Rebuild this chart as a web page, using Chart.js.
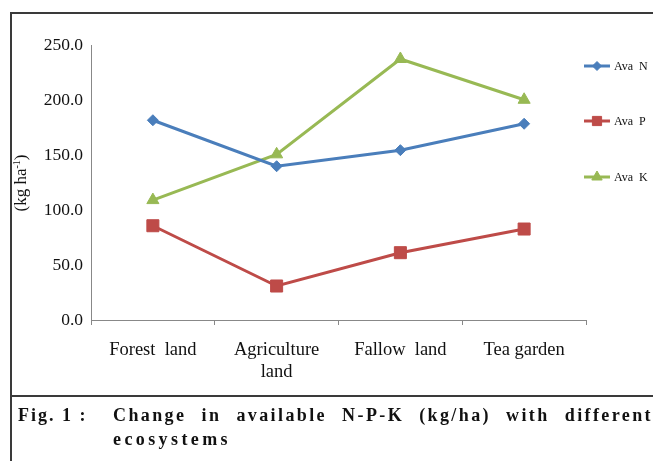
<!DOCTYPE html>
<html>
<head>
<meta charset="utf-8">
<script src="https://cdn.jsdelivr.net/npm/chart.js@4/dist/chart.umd.min.js"></script>
<style>
  html, body { margin: 0; padding: 0; background: #fff; }
  #wrap { position: relative; width: 653px; height: 461px; overflow: hidden; background: #fff; }
  #c { position: absolute; left: 0; top: 0; }
  .ln { position: absolute; background: #3a3a3a; }
  #cap1 { position: absolute; left: 18px; top: 403px; font: bold 18px "Liberation Serif", serif; letter-spacing: 2px; color: #111; white-space: nowrap; line-height: 24px; }
  #cap2 { position: absolute; left: 113px; top: 403px; width: 540px; font: bold 18px "Liberation Serif", serif; letter-spacing: 2.4px; line-height: 24px; color: #111; text-align: justify; }
  #cap2 .l2 { letter-spacing: 3.4px; }
</style>
</head>
<body>
<div id="wrap">
  <div class="ln" style="left:10px; top:12px; width:2px; height:449px;"></div>
  <div class="ln" style="left:10px; top:12px; width:643px; height:2px;"></div>
  <div class="ln" style="left:10px; top:395px; width:643px; height:2px;"></div>
  <canvas id="c" width="653" height="461"></canvas>
  <div id="cap1">Fig. 1 :</div>
  <div id="cap2">Change in available N-P-K (kg/ha) with different <span class="l2">ecosystems</span></div>
</div>
<script>
const categories = ["Forest  land", ["Agriculture", "land"], "Fallow  land", "Tea garden"];
const seriesNames = ["Ava N", "Ava P", "Ava K"];
const avaN = [181.6, 139.8, 154.4, 178.4];
const avaP = [85.7, 30.9, 61.2, 82.7];
const avaK = [109.0, 150.6, 237.3, 200.2];
const yTicks = [0, 50, 100, 150, 200, 250];
const yTitle = "(kg ha";
const yTitleSup = "-1";

const colors = ["#4a7ebb", "#be4b48", "#98b954"];
const styles = ["rectRot", "rect", "triangle"];
const radii = [5.5, 8.5, 7];
const legRadii = [4.5, 6.5, 6];

const legendPlugin = {
  id: 'customLegend',
  afterDraw(chart) {
    const ctx = chart.ctx;
    const ys = [66, 121, 177];
    ctx.save();
    chart.data.datasets.forEach((ds, i) => {
      const y = ys[i];
      ctx.strokeStyle = ds.borderColor;
      ctx.lineWidth = 3;
      ctx.beginPath(); ctx.moveTo(584, y); ctx.lineTo(610, y); ctx.stroke();
      ctx.fillStyle = ds.borderColor;
      ctx.strokeStyle = ds.borderColor;
      ctx.lineWidth = 1;
      Chart.helpers.drawPoint(ctx, { pointStyle: ds.pointStyle, radius: legRadii[i], borderWidth: 1, rotation: 0 }, 597, y);
      ctx.fillStyle = '#111';
      ctx.font = '12px "Liberation Serif", serif';
      ctx.textBaseline = 'middle';
      ctx.textAlign = 'left';
      ctx.fillText(ds.label.replace(' ', '  '), 614, y + 1);
    });
    // y axis title with superscript
    ctx.translate(22, 183);
    ctx.rotate(-Math.PI / 2);
    ctx.fillStyle = '#111';
    ctx.textBaseline = 'middle';
    ctx.font = '17px "Liberation Serif", serif';
    const w1 = ctx.measureText(yTitle).width;
    ctx.font = '10px "Liberation Serif", serif';
    const w2 = ctx.measureText(yTitleSup).width;
    ctx.font = '17px "Liberation Serif", serif';
    const w3 = ctx.measureText(")").width;
    const total = w1 + w2 + w3;
    let x = -total / 2;
    ctx.textAlign = 'left';
    ctx.fillText(yTitle, x, 0); x += w1;
    ctx.font = '10px "Liberation Serif", serif';
    ctx.fillText(yTitleSup, x, -5); x += w2;
    ctx.font = '17px "Liberation Serif", serif';
    ctx.fillText(")", x, 0);
    ctx.restore();
  }
};

const seriesData = [avaN, avaP, avaK];
new Chart(document.getElementById('c'), {
  type: 'line',
  data: {
    labels: categories,
    datasets: seriesNames.map((name, i) => ({
      label: name,
      data: seriesData[i],
      borderColor: colors[i],
      backgroundColor: colors[i],
      pointBackgroundColor: colors[i],
      pointBorderColor: colors[i],
      borderWidth: 3,
      pointStyle: styles[i],
      pointRadius: radii[i],
      pointBorderWidth: 1,
      tension: 0
    }))
  },
  options: {
    responsive: false,
    animation: false,
    devicePixelRatio: 1,
    layout: { padding: { left: 0, top: 45, right: 67, bottom: 0 } },
    plugins: { legend: { display: false }, tooltip: { enabled: false } },
    scales: {
      x: {
        offset: true,
        grid: { offset: true, drawOnChartArea: false, drawTicks: true, tickLength: 5, color: '#888' },
        border: { display: true, color: '#888', width: 1 },
        ticks: { color: '#111', font: { family: '"Liberation Serif", serif', size: 18.5, lineHeight: 1.15 }, padding: 15, maxRotation: 0, autoSkip: false },
        afterFit(s) { s.height = 141; }
      },
      y: {
        min: 0, max: 250,
        afterBuildTicks(s) { s.ticks = yTicks.map(v => ({ value: v })); },
        grid: { display: false, drawTicks: false },
        border: { display: true, color: '#888', width: 1 },
        ticks: { color: '#111', font: { family: '"Liberation Serif", serif', size: 17.5 }, padding: 8, callback: v => Number(v).toFixed(1) },
        afterFit(s) { s.width = 91; }
      }
    }
  },
  plugins: [legendPlugin]
});
</script>
</body>
</html>
